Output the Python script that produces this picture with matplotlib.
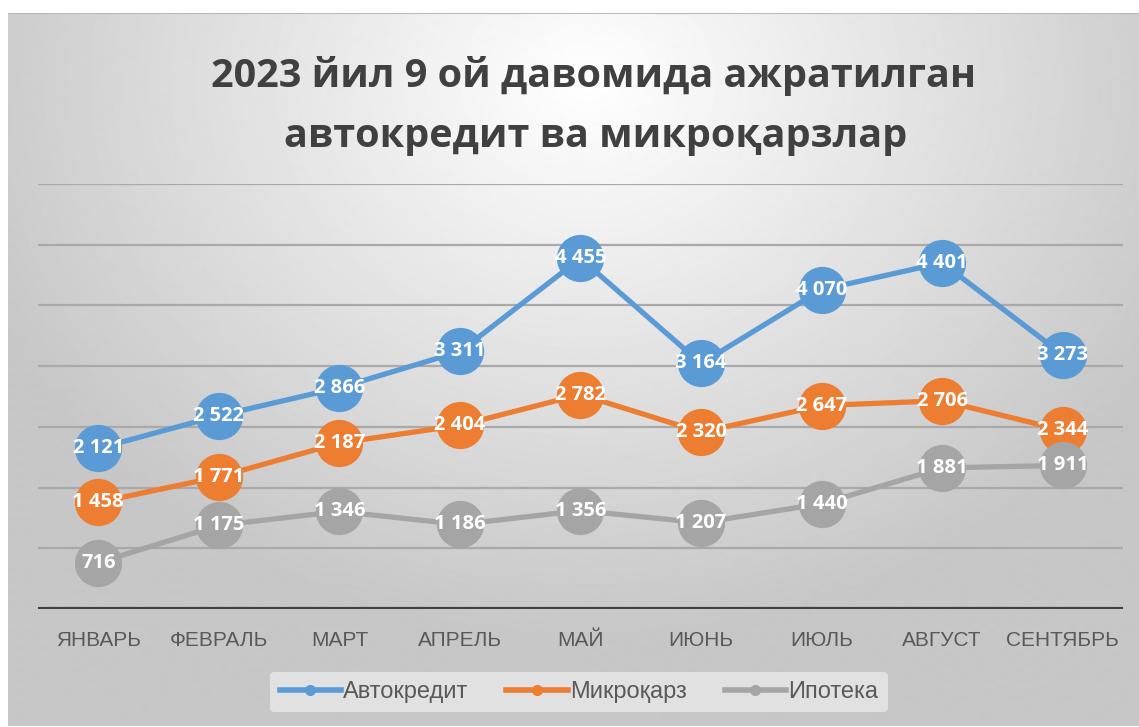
import numpy as np
import matplotlib
matplotlib.use("Agg")
import matplotlib.pyplot as plt
from matplotlib.lines import Line2D

months = ["ЯНВАРЬ", "ФЕВРАЛЬ", "МАРТ", "АПРЕЛЬ", "МАЙ", "ИЮНЬ", "ИЮЛЬ", "АВГУСТ", "СЕНТЯБРЬ"]
avtokredit = [2121, 2522, 2866, 3311, 4455, 3164, 4070, 4401, 3273]
mikroqarz = [1458, 1771, 2187, 2404, 2782, 2320, 2647, 2706, 2344]
ipoteka = [716, 1175, 1346, 1186, 1356, 1207, 1440, 1881, 1911]
series_names = ["Автокредит", "Микроқарз", "Ипотека"]
colors = ["#5B9BD5", "#ED7D31", "#A5A5A5"]

W, H = 1139, 727
fig = plt.figure(figsize=(W / 100, H / 100), dpi=100)
fig.patch.set_facecolor("white")

# radial gradient background (the chart area frame)
bg = fig.add_axes([8 / W, 0, 1 - 8 / W, 1 - 13 / H])
bg.set_axis_off()
yy, xx = np.mgrid[0:H - 13, 0:W - 8]
cx, cy = 580, 70
r = np.sqrt(((xx - cx) / 800.0) ** 2 + ((yy - cy) / 680.0) ** 2)
shade = np.clip(1.0 - 0.27 * r, 0.78, 1.0)
bg.imshow(shade, cmap="gray", vmin=0, vmax=1, aspect="auto", interpolation="bilinear")
bg.plot([0, W - 8], [0, 0], color="#b8b8b8", lw=1.5)
bg.set_xlim(0, W - 8)
bg.set_ylim(H - 13, 0)

ax = fig.add_axes([38 / W, (H - 609) / H, (1123 - 38) / W, (609 - 184) / H])
ax.patch.set_alpha(0)
x = np.arange(len(months))
ylo, yhi = 147, 5369
ax.set_xlim(-0.5, len(months) - 0.5)
ax.set_ylim(ylo, yhi)

for g in np.linspace(ylo, yhi, 8)[1:]:
    ax.axhline(g, color="#a9a9a9", lw=1.6, zorder=1)
ax.axhline(ylo, color="#404040", lw=3, zorder=2)

for vals, c in zip([avtokredit, mikroqarz, ipoteka], colors):
    ax.plot(x, vals, color=c, lw=3.8, marker="o", markersize=33, zorder=3)
    for xi, v in zip(x, vals):
        ax.text(xi, v, f"{v:,}".replace(",", " "), ha="center", va="center",
                color="white", fontsize=14.5, fontweight="bold", family="Open Sans", zorder=4)

for s in ax.spines.values():
    s.set_visible(False)
ax.set_yticks([])
ax.set_xticks(x)
ax.set_xticklabels(months, fontsize=15, color="#595959", family="Liberation Sans")
ax.tick_params(axis="x", length=0, pad=16)

fig.text(0.521, 1 - 76 / H, "2023 йил 9 ой давомида ажратилган", ha="center", va="center",
         fontsize=28.5, fontweight="bold", color="#404040", family="Open Sans")
fig.text(0.523, 1 - 136 / H, "автокредит ва микроқарзлар", ha="center", va="center",
         fontsize=28.5, fontweight="bold", color="#404040", family="Open Sans")

handles = [Line2D([0], [0], color=c, lw=4, marker="o", markersize=7) for c in colors]
leg = fig.legend(handles, series_names, loc="center", bbox_to_anchor=(579 / W, 1 - 692 / H),
                 ncol=3, frameon=True, handlelength=2.6, handletextpad=0.1,
                 columnspacing=1.6, borderpad=0.4,
                 prop={"family": "Liberation Sans", "size": 17})
leg.get_frame().set_facecolor("#e8e8e8")
leg.get_frame().set_edgecolor("none")
leg.get_frame().set_alpha(0.8)
for t in leg.get_texts():
    t.set_color("#595959")

fig.savefig("out.png", dpi=100)
